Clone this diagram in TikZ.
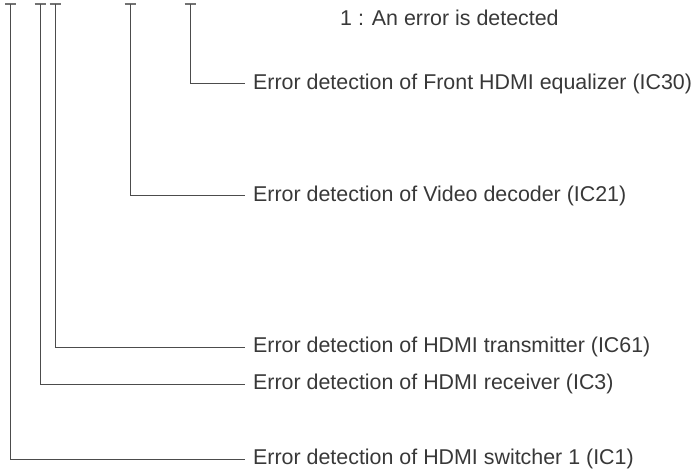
\documentclass[tikz,border=0pt]{standalone}
\usepackage{fontspec}
\setmainfont{Liberation Sans}
\begin{document}
\begin{tikzpicture}[x=1pt,y=-1pt,
  lbl/.style={anchor=west,inner sep=0pt,text=black!78,font=\fontsize{21.4}{25}\selectfont},
  wire/.style={draw=black!70,line width=1pt},
  tee/.style={draw=black!55,line width=1.4pt}]
\useasboundingbox (0,0) rectangle (692,470);
\node[lbl] (note) at (340,18) {1 : An error is detected};
\node[lbl] (t5) at (253,84) {Error detection of Front HDMI equalizer (IC30)};
\node[lbl] (t4) at (253,196) {Error detection of Video decoder (IC21)};
\node[lbl] (t3) at (253,347) {Error detection of HDMI transmitter (IC61)};
\node[lbl] (t2) at (253,384) {Error detection of HDMI receiver (IC3)};
\node[lbl] (t1) at (253,459) {Error detection of HDMI switcher 1 (IC1)};
\foreach \n/\x in {b1/10.5,b2/40,b3/55,b4/130,b5/190}{
  \coordinate (\n) at (\x,4);
  \draw[tee] ([xshift=-5.5pt]\n) -- ([xshift=5.5pt]\n);
}
\draw[wire] (b1) |- ([xshift=-8pt]t1.west);
\draw[wire] (b2) |- ([xshift=-8pt]t2.west);
\draw[wire] (b3) |- ([xshift=-8pt]t3.west);
\draw[wire] (b4) |- ([xshift=-8pt]t4.west);
\draw[wire] (b5) |- ([xshift=-8pt]t5.west);
\end{tikzpicture}
\end{document}
